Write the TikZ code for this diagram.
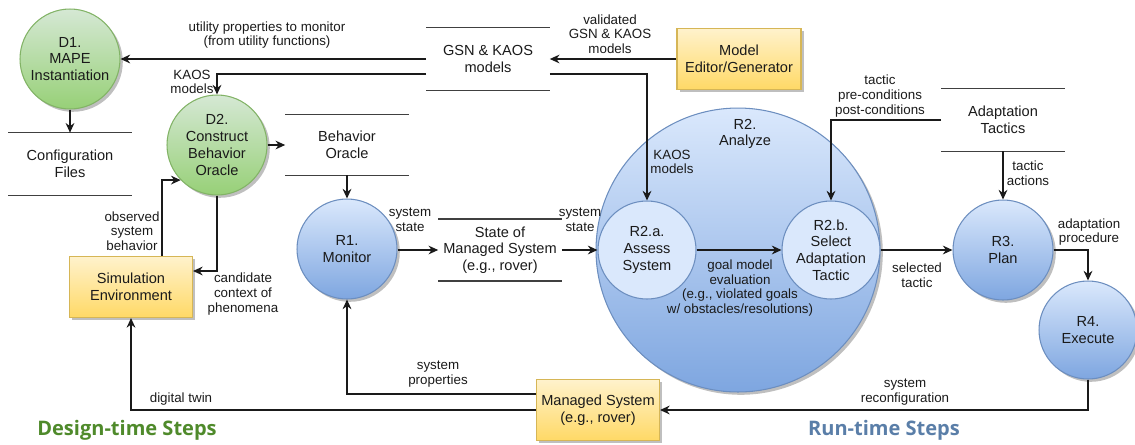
\documentclass[tikz,border=0pt]{standalone}
\usepackage{fontspec}
\setmainfont{Liberation Sans}
\newfontfamily\titlefont{Open Sans}
\usetikzlibrary{arrows.meta,shadows,calc}

\definecolor{greenTop}{HTML}{D5E8D4}
\definecolor{greenBot}{HTML}{97D077}
\definecolor{greenLine}{HTML}{82B366}
\definecolor{blueTop}{HTML}{DAE8FC}
\definecolor{blueBot}{HTML}{7EA6E0}
\definecolor{blueLine}{HTML}{6C8EBF}
\definecolor{yelTop}{HTML}{FFF2CC}
\definecolor{yelBot}{HTML}{FFD966}
\definecolor{yelLine}{HTML}{D6B656}
\definecolor{designGreen}{HTML}{4F8A2B}
\definecolor{runBlue}{HTML}{5A7EA8}
\definecolor{ink}{HTML}{1A1A1A}

\tikzset{
  lbl/.style={font=\fontsize{7.6}{8.3}\selectfont, align=center, inner sep=0pt, text=ink},
  nodefont/.style={font=\fontsize{8.3}{9.5}\selectfont, align=center, text=ink},
  softshadow/.style={drop shadow={shadow xshift=1.6pt, shadow yshift=-1.6pt, fill=black, opacity=0.25}},
  proc/.style={circle, minimum size=2cm, inner sep=0pt, nodefont, line width=0.6pt, softshadow},
  greenproc/.style={proc, draw=greenLine, top color=greenTop, bottom color=greenBot},
  blueproc/.style={proc, draw=blueLine, top color=blueTop, bottom color=blueBot},
  subproc/.style={circle, minimum size=1.96cm, inner sep=0pt, nodefont, line width=0.6pt, draw=blueLine, fill=blueTop},
  extent/.style={rectangle, minimum width=2.46cm, minimum height=1.22cm, inner sep=0pt, nodefont,
    draw=yelLine, line width=0.6pt, top color=yelTop, bottom color=yelBot, softshadow},
  store/.style={rectangle, minimum width=2.46cm, minimum height=1.24cm, inner sep=0pt, nodefont},
  storeline/.style={draw=black!75, line width=0.8pt},
  arr/.style={-{Stealth[length=5.5pt,width=5pt]}, draw=ink, line width=0.7pt},
}

\begin{document}
\begin{tikzpicture}[x=0.02cm, y=-0.02cm]
\useasboundingbox (0,0) rectangle (1135,444);

% ---- data stores ----
\node[store] (cfg) at (70,164) {Configuration\\Files};
\node[store, minimum height=1.2cm] (bo) at (347,145) {Behavior\\Oracle};
\node[store] (gsn) at (488,59) {GSN \& KAOS\\models};
\node[store, minimum height=1.22cm] (sms) at (500,250) {State of\\Managed System\\(e.g., rover)};
\node[store] (at) at (1003,120) {Adaptation\\Tactics};
\foreach \s in {cfg,bo,gsn,sms,at}{
  \draw[storeline] (\s.north west) -- (\s.north east) (\s.south west) -- (\s.south east);
}

% ---- design-time processes ----
\node[greenproc] (d1) at (70,59) {D1.\\MAPE\\Instantiation};
\node[greenproc] (d2) at (217,145) {D2.\\Construct\\Behavior\\Oracle};

% ---- run-time processes ----
\node[blueproc, minimum size=5.68cm] (r2) at (738,250) {};
\node[nodefont, inner sep=0pt] (r2t) at (745,134) {R2.\\Analyze};
\node[subproc] (r2a) at (647,250) {R2.a.\\Assess\\System};
\node[subproc] (r2b) at (831,250) {R2.b.\\Select\\Adaptation\\Tactic};
\node[blueproc] (r1) at (347,249) {R1.\\Monitor};
\node[blueproc] (r3) at (1003,250) {R3.\\Plan};
\node[blueproc, minimum size=1.96cm] (r4) at (1088,330) {R4.\\Execute};

% ---- external entities ----
\node[extent, minimum width=2.48cm] (med) at (739,59) {Model\\Editor/Generator};
\node[extent] (ms) at (598,410) {Managed System\\(e.g., rover)};
\node[extent] (sim) at (131,287) {Simulation\\Environment};

% ---- flows ----
\draw[arr] (gsn.west) -- (gsn.west -| d1.east);
\draw[arr] (med.west) -- (gsn.east);
\draw[arr] ($(gsn.west)+(0,15)$) -| (d2.north);
\draw[arr] ($(gsn.east)+(0,15)$) -| (r2a.north);
\draw[arr] (d1.south) -- (cfg.north);
\draw[arr] (d2.east) -- (bo.west);
\draw[arr] (bo.south) -- (r1.north);
\draw[arr] (r1.east |- sms.west) -- (sms.west);
\draw[arr] (sms.east) -- (r2a.west);
\draw[arr] (r2a.east) -- (r2b.west);
\draw[arr] (r2b.east) -- (r3.west);
\draw[arr] (at.west) -| (r2b.north);
\draw[arr] (at.south) -- (r3.north);
\draw[arr] (r3.east) -| (r4.north);
\draw[arr] (r4.south) |- (ms.east);
\draw[arr] ($(ms.west)+(0,-16)$) -| (r1.south);
\draw[arr] (ms.west) -| (sim.south);
\draw[arr] ($(sim.north)+(31,0)$) |- (d2.224);
\draw[arr] (d2.south) |- ($(sim.east)+(0,-16)$);

% ---- flow labels ----
\node[lbl] (l1) at (267,35) {utility properties to monitor\\(from utility functions)};
\node[lbl] (l2) at (192,82) {KAOS\\models};
\node[lbl] (l3) at (610,34) {validated\\GSN \& KAOS\\models};
\node[lbl] (l4) at (672,162) {KAOS\\models};
\node[lbl] (l5) at (880,96) {tactic\\pre-conditions\\post-conditions};
\node[lbl] (l6) at (1028,173) {tactic\\actions};
\node[lbl] (l7) at (410,220) {system\\state};
\node[lbl] (l8) at (580,220) {system\\state};
\node[lbl] (l9) at (740,288) {goal model\\evaluation\\(e.g., violated goals\\w/ obstacles/resolutions)};
\node[lbl] (l10) at (917,275) {selected\\tactic};
\node[lbl] (l11) at (1089,232) {adaptation\\procedure};
\node[lbl] (l12) at (905,392) {system\\reconfiguration};
\node[lbl] (l13) at (438,374) {system\\properties};
\node[lbl] (l14) at (181,399) {digital twin};
\node[lbl] (l15) at (132,231) {observed\\system\\behavior};
\node[lbl] (l16) at (243,294) {candidate\\context of\\phenomena};

% ---- section titles ----
\node[font=\titlefont\bfseries\fontsize{11.4}{13}\selectfont, text=designGreen, inner sep=0pt] (dt) at (127,430) {Design-time Steps};
\node[font=\titlefont\bfseries\fontsize{11.4}{13}\selectfont, text=runBlue, inner sep=0pt] (rt) at (884,430) {Run-time Steps};
\end{tikzpicture}
\end{document}
